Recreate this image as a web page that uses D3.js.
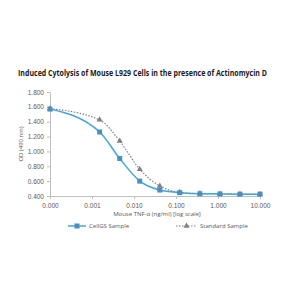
<!DOCTYPE html>
<html lang="en">
<head>
  <meta charset="UTF-8">
  <title>Induced Cytolysis of Mouse L929 Cells</title>
  <script src="https://d3js.org/d3.v7.min.js"></script>
  <style>
    body {
      margin: 0;
      padding: 0;
      background: #ffffff;
      font-family: 'Open Sans', 'Liberation Sans', sans-serif;
    }
    .axis path,
    .axis line {
      stroke: #bfbfbf;
    }
    .axis text {
      font-size: 6.5px;
      fill: #595959;
      font-family: 'Liberation Sans', sans-serif;
    }
    .title {
      font-size: 8px;
      font-weight: bold;
      fill: #1a1a1a;
    }
    .label {
      font-size: 6px;
      fill: #595959;
    }
  </style>
</head>
<body>
  <div id="chart"></div>
  <script>
    // 0 is drawn at the "0.000" position (0.0001 on the log axis)
    const doses = [0.0001, 0.00152, 0.00457, 0.0137, 0.0412, 0.123, 0.370, 1.11, 3.33, 10];
    const cellgs = [1.570, 1.262, 0.905, 0.600, 0.480, 0.445, 0.430, 0.428, 0.425, 0.425];
    const standard = [1.575, 1.425, 1.140, 0.760, 0.535, 0.450, 0.432, 0.428, 0.425, 0.425];
    const xTicks = [0.0001, 0.001, 0.01, 0.1, 1, 10];
    const xTickLabels = ["0.000", "0.001", "0.010", "0.100", "1.000", "10.000"];
    const yTicks = [0.4, 0.6, 0.8, 1.0, 1.2, 1.4, 1.6, 1.8];

    const width = 300;
    const height = 300;
    const margin = { top: 92, right: 40, bottom: 104, left: 50 };
    const blueLine = "#45a5d6";
    const blueMark = "#4b8fbf";
    const grey = "#808080";

    const svg = d3.select("#chart")
      .append("svg")
      .attr("width", width)
      .attr("height", height);

    const x = d3.scaleLog()
      .domain([0.0001, 10])
      .range([margin.left, width - margin.right]);

    const y = d3.scaleLinear()
      .domain([0.4, 1.8])
      .range([height - margin.bottom, margin.top]);

    // Title
    svg.append("text")
      .attr("class", "title")
      .attr("x", 18)
      .attr("y", 76)
      .attr("textLength", 249)
      .attr("lengthAdjust", "spacingAndGlyphs")
      .text("Induced Cytolysis of Mouse L929 Cells in the presence of Actinomycin D");

    // Axes
    svg.append("g")
      .attr("class", "x axis")
      .attr("transform", `translate(0,${height - margin.bottom})`)
      .call(d3.axisBottom(x)
        .tickValues(xTicks)
        .tickFormat((d, i) => xTickLabels[i])
        .tickSize(3)
        .tickSizeOuter(0))
      .call(g => g.selectAll("text").attr("dy", "0.9em"));

    svg.append("g")
      .attr("class", "y axis")
      .attr("transform", `translate(${margin.left},0)`)
      .call(d3.axisLeft(y)
        .tickValues(yTicks)
        .tickFormat(d3.format(".3f"))
        .tickSize(3)
        .tickSizeOuter(0));

    // Axis titles
    svg.append("text")
      .attr("class", "label")
      .attr("text-anchor", "middle")
      .attr("transform", `translate(23,${(y(0.4) + y(1.8)) / 2}) rotate(-90)`)
      .text("OD (490 nm)");

    svg.append("text")
      .attr("class", "label")
      .attr("text-anchor", "middle")
      .attr("x", 157)
      .attr("y", 216)
      .text("Mouse TNF-\u03b1 (ng/ml) [log scale]");

    const line = d3.line()
      .x(d => x(d[0]))
      .y(d => y(d[1]))
      .curve(d3.curveMonotoneX);

    const stdPts = doses.map((d, i) => [d, standard[i]]);
    const cellPts = doses.map((d, i) => [d, cellgs[i]]);

    // Standard sample (dotted grey with triangles)
    svg.append("path")
      .datum(stdPts)
      .attr("fill", "none")
      .attr("stroke", grey)
      .attr("stroke-width", 1.2)
      .attr("stroke-dasharray", "1.5,1.5")
      .attr("d", line);

    const tri = d3.symbol().type(d3.symbolTriangle).size(16);

    svg.selectAll(".tri")
      .data(stdPts)
      .enter()
      .append("path")
      .attr("class", "tri")
      .attr("transform", d => `translate(${x(d[0])},${y(d[1])})`)
      .attr("d", tri)
      .attr("fill", grey);

    // CellGS sample (solid blue with squares)
    svg.append("path")
      .datum(cellPts)
      .attr("fill", "none")
      .attr("stroke", blueLine)
      .attr("stroke-width", 1.5)
      .attr("d", line);

    svg.selectAll(".sq")
      .data(cellPts)
      .enter()
      .append("rect")
      .attr("class", "sq")
      .attr("x", d => x(d[0]) - 2.5)
      .attr("y", d => y(d[1]) - 2.5)
      .attr("width", 5)
      .attr("height", 5)
      .attr("fill", blueMark);

    // Legend
    const legend = svg.append("g").attr("transform", "translate(0,226)");

    legend.append("line")
      .attr("x1", 68).attr("x2", 86)
      .attr("y1", 0).attr("y2", 0)
      .attr("stroke", blueLine)
      .attr("stroke-width", 1.5);
    legend.append("rect")
      .attr("x", 74.5).attr("y", -2.5)
      .attr("width", 5).attr("height", 5)
      .attr("fill", blueMark);
    legend.append("text")
      .attr("class", "label")
      .attr("x", 89).attr("y", 2)
      .text("CellGS Sample");

    legend.append("line")
      .attr("x1", 176).attr("x2", 197)
      .attr("y1", 0).attr("y2", 0)
      .attr("stroke", grey)
      .attr("stroke-width", 1.2)
      .attr("stroke-dasharray", "1.5,1.5");
    legend.append("path")
      .attr("transform", "translate(186.5,0)")
      .attr("d", tri)
      .attr("fill", grey);
    legend.append("text")
      .attr("class", "label")
      .attr("x", 200).attr("y", 2)
      .text("Standard Sample");
  </script>
</body>
</html>
